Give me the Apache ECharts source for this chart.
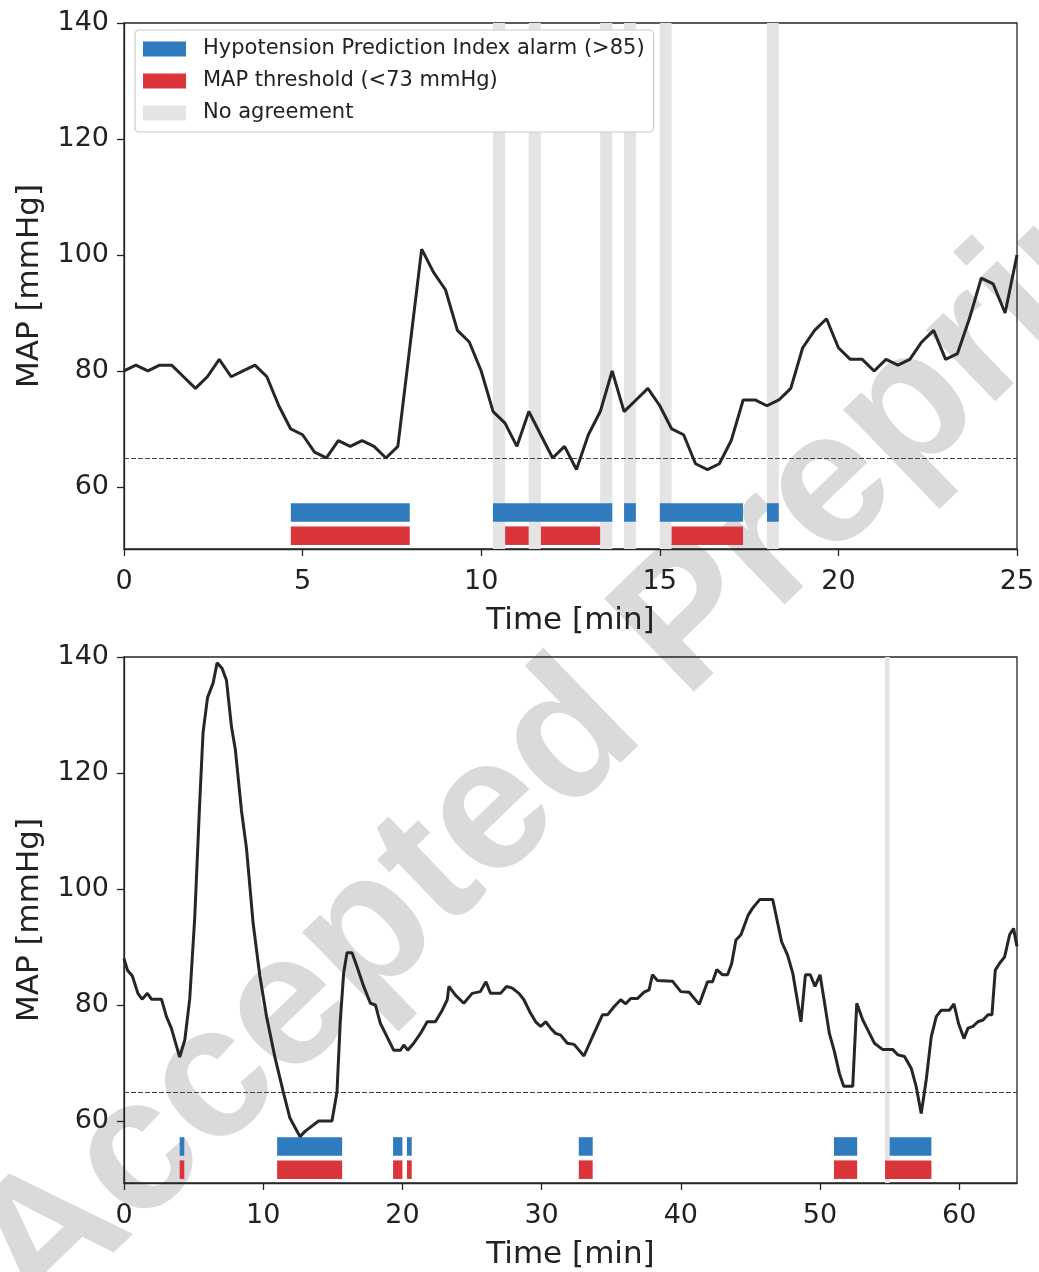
<!DOCTYPE html>
<html>
<head>
<meta charset="utf-8">
<script src="https://cdn.jsdelivr.net/npm/echarts@6/dist/echarts.min.js"></script>
<style>
    html, body { margin: 0; padding: 0; background: #fff; }
    #chart { width: 1039px; height: 1272px; }
</style>
</head>
<body>
<div id="chart"></div>
<script>
// MAP traces + HPI / threshold alarm intervals, two cases

// --- case 1 (top): one MAP sample every 20 s ---
const topStep = 1 / 3; // minutes
const topMap = [80, 81, 80, 81, 81, 79, 77, 79, 82, 79, 80, 81, 79, 74, 70, 69, 66, 65, 68, 67,
    68, 67, 65, 67, 84, 101, 97, 94, 87, 85, 80, 73, 71, 67, 73, 69, 65, 67, 63, 69,
    73, 80, 73, 75, 77, 74, 70, 69, 64, 63, 64, 68, 75, 75, 74, 75, 77, 84, 87, 89,
    84, 82, 82, 80, 82, 81, 82, 85, 87, 82, 83, 89, 96, 95, 90, 100];
const topHpi = [[4.67, 8.0], [10.33, 13.67], [14.0, 14.33], [15.0, 17.33], [18.0, 18.33]];
const topThr = [[4.67, 8.0], [10.67, 11.33], [11.67, 13.33], [15.33, 17.33]];
const topNoAgree = [[10.33, 10.67], [11.33, 11.67], [13.33, 13.67], [14.0, 14.33], [15.0, 15.33], [18.0, 18.33]];

// --- case 2 (bottom) ---
const botTime = [0, 0.25, 0.6, 1.0, 1.3, 1.68, 1.97, 2.69, 3.05, 3.4, 4.0, 4.37, 4.72, 5.08, 5.44, 5.68, 6.0, 6.4, 6.69, 7.05,
    7.36, 7.72, 8.0, 8.44, 8.8, 9.28, 9.76, 10.24, 10.84, 11.44, 11.92, 12.64, 13.0, 13.1, 13.98, 14.94, 15.3, 15.54, 15.78, 16.02,
    16.38, 16.74, 17.22, 17.7, 18.06, 18.42, 18.9, 19.37, 19.86, 20.1, 20.38, 20.81, 21.3, 21.78, 22.37, 22.86, 23.22, 23.34, 23.81, 24.41,
    25.01, 25.6, 26.0, 26.33, 27.05, 27.48, 27.89, 28.37, 28.73, 29.2, 29.57, 29.93, 30.29, 30.65, 31.0, 31.37, 31.85, 32.33, 33.04, 33.65,
    34.37, 34.73, 35.2, 35.68, 36.04, 36.4, 36.88, 37.36, 37.72, 37.96, 38.32, 39.4, 40.0, 40.6, 41.32, 41.92, 42.28, 42.59, 43.0, 43.36,
    43.65, 43.96, 44.32, 44.84, 45.16, 45.68, 46.6, 46.96, 47.24, 47.67, 48.04, 48.63, 48.95, 49.3, 49.64, 50.0, 50.31, 50.67, 51.03, 51.39,
    51.7, 52.35, 52.64, 53.07, 53.43, 53.91, 54.51, 55.23, 55.59, 56.07, 56.55, 56.91, 57.27, 57.63, 57.99, 58.35, 58.71, 59.3, 59.62, 59.95,
    60.34, 60.63, 60.99, 61.34, 61.71, 62.07, 62.35, 62.59, 62.9, 63.26, 63.62, 63.9, 64.15];
const botMap = [88, 86, 85, 82, 81, 82, 81, 81, 78, 76, 71, 74, 81, 95, 115, 127, 133, 135.5, 139, 138,
    136, 128, 124, 113.5, 107, 94, 85, 78, 71, 65, 60.5, 57.3, 58.2, 58.4, 60, 60, 65, 77.4, 85.5, 89,
    89, 86.6, 83.2, 80.3, 80, 76.8, 74.5, 72.2, 72.2, 73.1, 72.2, 73.4, 75.1, 77.1, 77.1, 79.1, 80.9, 83.2, 81.7, 80.3,
    82, 82.3, 84, 82, 82, 83.2, 82.9, 82, 80.9, 78.6, 77.1, 76.3, 77.1, 76, 75.1, 74.8, 73.4, 73.2, 71.2, 74.5,
    78.3, 78.3, 79.7, 80.9, 80.2, 81.1, 81.1, 82.2, 82.6, 85.2, 84.2, 84.1, 82.3, 82.2, 80.1, 84, 84, 86.1, 85.2, 85.2,
    87.1, 91.2, 92.1, 95.5, 96.7, 98.2, 98.2, 94.1, 90.9, 88.6, 85.5, 77.1, 85.2, 85.2, 83.2, 85.2, 80.6, 75.1, 72, 68.2,
    66, 66, 80.3, 77.4, 75.7, 73.4, 72.3, 72.3, 71.4, 71.1, 69.1, 65.9, 61.3, 67.1, 74.5, 78, 79.1, 79.1, 80.2, 76.8,
    74.2, 76, 76.3, 77.1, 77.4, 78.3, 78.3, 86, 87.2, 88.3, 92.1, 93.2, 90.1];
const botHpi = [[4.0, 4.33], [11.0, 15.67], [19.33, 20.0], [20.33, 20.67], [32.67, 33.67], [51.0, 52.67], [55.0, 58.0]];
const botThr = [[4.0, 4.33], [11.0, 15.67], [19.33, 20.0], [20.33, 20.67], [32.67, 33.67], [51.0, 52.67], [54.67, 58.0]];
const botNoAgree = [[54.67, 55.0]];

const yTicks = [60, 80, 100, 120, 140];
const topXTicks = [0, 5, 10, 15, 20, 25];
const botXTicks = [0, 10, 20, 30, 40, 50, 60];
const mapLimit = 65;

// names + colours
const N_HPI = 'Hypotension Prediction Index alarm (>85)';
const N_THR = 'MAP threshold (<73 mmHg)';
const N_NO = 'No agreement';
const C_HPI = '#2f7bbd';
const C_THR = '#d9353a';
const C_NO = '#e4e4e4';
const C_INK = '#262626';
const FONT = 'DejaVu Sans';

// lanes (in mmHg) where the alarm bars sit
const LANE_HPI = [54, 57.2];
const LANE_THR = [50, 53.2];

function laneItem(lane, color) {
    return function (params, api) {
        const a = api.coord([api.value(0), lane[1]]);
        const b = api.coord([api.value(1), lane[0]]);
        return { type: 'rect', shape: { x: a[0], y: a[1], width: b[0] - a[0], height: b[1] - a[1] }, style: { fill: color } };
    };
}

function bandItem(params, api) {
    const cs = params.coordSys;
    const a = api.coord([api.value(0), 100]);
    const b = api.coord([api.value(1), 100]);
    return { type: 'rect', shape: { x: a[0], y: cs.y, width: b[0] - a[0], height: cs.height }, style: { fill: C_NO } };
}

function xAxisFor(idx, max, ticks) {
    return {
        type: 'value', gridIndex: idx, min: 0, max: max,
        name: 'Time [min]', nameLocation: 'middle', nameGap: 56,
        nameTextStyle: { fontFamily: FONT, fontSize: 31, color: '#222' },
        axisLine: { show: true, onZero: false, lineStyle: { color: C_INK, width: 1.3 } },
        axisTick: { show: true, length: 7, customValues: ticks, lineStyle: { color: C_INK, width: 1.3 } },
        axisLabel: { customValues: ticks, margin: 19, fontFamily: FONT, fontSize: 27, color: '#222' },
        splitLine: { show: false }
    };
}

function yAxisFor(idx) {
    return {
        type: 'value', gridIndex: idx, min: 49.3, max: 140,
        name: 'MAP [mmHg]', nameLocation: 'middle', nameGap: 79, nameRotate: 90,
        nameTextStyle: { fontFamily: FONT, fontSize: 31, color: '#222' },
        axisLine: { show: true, onZero: false, lineStyle: { color: C_INK, width: 1.3 } },
        axisTick: { show: true, length: 7, customValues: yTicks, lineStyle: { color: C_INK, width: 1.3 } },
        axisLabel: { customValues: yTicks, margin: 15, fontFamily: FONT, fontSize: 27, color: '#222' },
        splitLine: { show: false }
    };
}

function seriesFor(idx, line, hpi, thr, noAgree) {
    return [
        { name: N_NO, type: 'custom', xAxisIndex: idx, yAxisIndex: idx, renderItem: bandItem,
          itemStyle: { color: C_NO }, encode: { x: [0, 1] }, data: noAgree, z: 1, silent: true },
        { name: N_HPI, type: 'custom', xAxisIndex: idx, yAxisIndex: idx, renderItem: laneItem(LANE_HPI, C_HPI),
          itemStyle: { color: C_HPI }, encode: { x: [0, 1] }, data: hpi, z: 3, silent: true },
        { name: N_THR, type: 'custom', xAxisIndex: idx, yAxisIndex: idx, renderItem: laneItem(LANE_THR, C_THR),
          itemStyle: { color: C_THR }, encode: { x: [0, 1] }, data: thr, z: 3, silent: true },
        {
            name: 'MAP', type: 'line', xAxisIndex: idx, yAxisIndex: idx, data: line,
            showSymbol: false, silent: true, z: 5,
            lineStyle: { color: C_INK, width: 3 },
            markLine: {
                silent: true, symbol: 'none', label: { show: false },
                lineStyle: { type: [5, 2], color: '#333', width: 0.9 },
                data: [{ yAxis: mapLimit }]
            }
        }
    ];
}

const chart = echarts.init(document.getElementById('chart'), null, { renderer: 'canvas' });

const topLine = topMap.map((v, i) => [i * topStep, v]);
const botLine = botMap.map((v, i) => [botTime[i], v]);

chart.setOption({
    animation: false,
    backgroundColor: '#fff',
    grid: [
        { left: 124, top: 23, width: 893, height: 526, show: true, borderColor: C_INK, borderWidth: 1.3 },
        { left: 124, top: 657, width: 893, height: 526, show: true, borderColor: C_INK, borderWidth: 1.3 }
    ],
    xAxis: [xAxisFor(0, 25, topXTicks), xAxisFor(1, 64.15, botXTicks)],
    yAxis: [yAxisFor(0), yAxisFor(1)],
    legend: {
        data: [N_HPI, N_THR, N_NO],
        orient: 'vertical', left: 135, top: 30,
        icon: 'rect', itemWidth: 43, itemHeight: 15, itemGap: 10,
        padding: [8, 9, 8, 8],
        backgroundColor: '#fff', borderColor: '#cccccc', borderWidth: 1.2, borderRadius: 4,
        selectedMode: false,
        textStyle: { fontFamily: FONT, fontSize: 21, color: '#222', lineHeight: 22, padding: [0, 0, 0, 12] }
    },
    // journal stamp across the page, kept under the traces
    graphic: [{
        type: 'text', x: 68, y: 1355, rotation: 44 * Math.PI / 180, z: -1, silent: true,
        style: {
            text: 'Accepted Preprint', font: 'bold 188px "Liberation Sans"',
            fill: '#dadada', verticalAlign: 'bottom', align: 'left'
        }
    }],
    series: seriesFor(0, topLine, topHpi, topThr, topNoAgree)
        .concat(seriesFor(1, botLine, botHpi, botThr, botNoAgree))
});
</script>
</body>
</html>
